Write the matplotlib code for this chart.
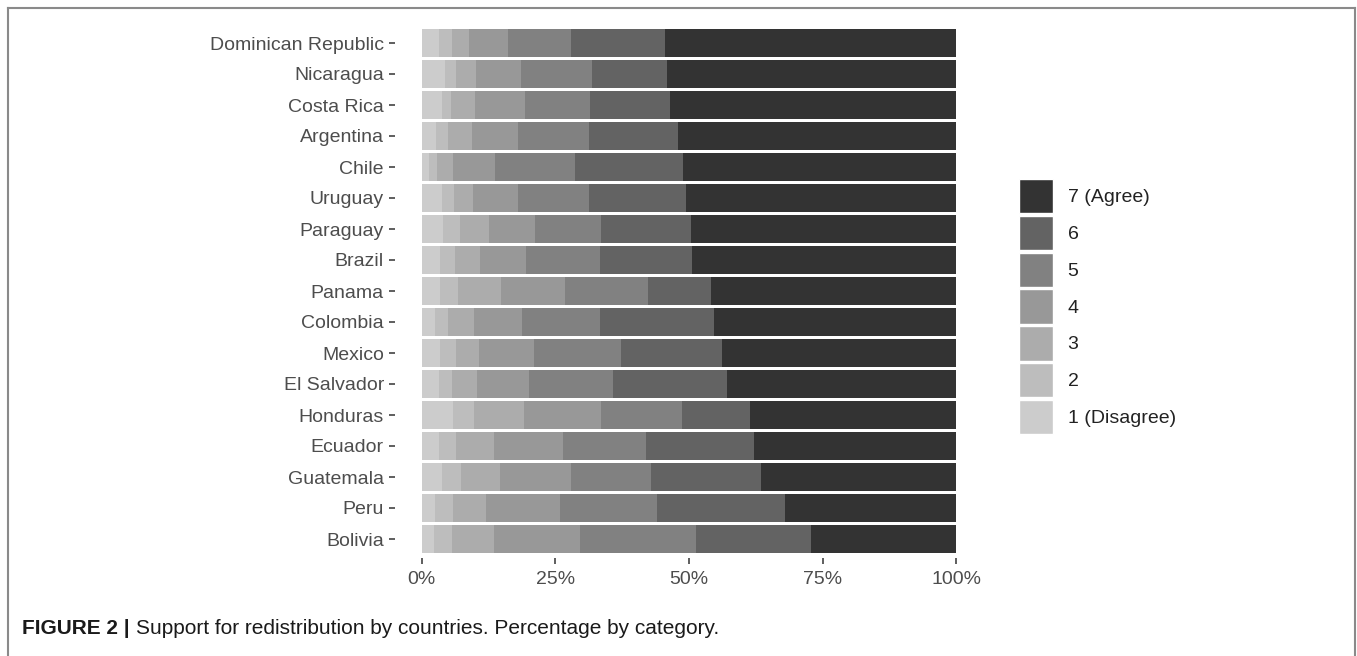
import matplotlib
matplotlib.use("Agg")
import matplotlib.pyplot as plt
from matplotlib.patches import Patch
from matplotlib.lines import Line2D
import numpy as np

plt.rcParams["font.family"] = ["Liberation Sans", "DejaVu Sans"]

# countries, top to bottom
countries = ["Dominican Republic", "Nicaragua", "Costa Rica", "Argentina", "Chile",
             "Uruguay", "Paraguay", "Brazil", "Panama", "Colombia", "Mexico",
             "El Salvador", "Honduras", "Ecuador", "Guatemala", "Peru", "Bolivia"]

# percentage per answer category (1 = disagree ... 7 = agree)
cat1 = [3.3, 4.3, 3.7, 2.7, 1.4, 3.7, 3.9, 3.4, 3.4, 2.5, 3.5, 3.2, 5.8, 3.2, 3.7, 2.5, 2.3]
cat2 = [2.3, 2.2, 1.8, 2.2, 1.5, 2.3, 3.3, 2.8, 3.4, 2.4, 2.9, 2.5, 4.0, 3.3, 3.6, 3.4, 3.4]
cat3 = [3.2, 3.7, 4.4, 4.5, 2.9, 3.5, 5.4, 4.7, 8.1, 4.9, 4.4, 4.6, 9.4, 7.0, 7.3, 6.1, 7.8]
cat4 = [7.3, 8.4, 9.5, 8.6, 7.9, 8.6, 8.5, 8.7, 11.9, 8.9, 10.2, 9.7, 14.3, 12.9, 13.4, 13.9, 16.2]
cat5 = [11.9, 13.3, 12.1, 13.3, 14.9, 13.2, 12.5, 13.7, 15.6, 14.7, 16.3, 15.8, 15.2, 15.6, 14.8, 18.1, 21.6]
cat6 = [17.6, 13.9, 15.0, 16.6, 20.2, 18.2, 16.7, 17.3, 11.8, 21.3, 18.9, 21.3, 12.7, 20.1, 20.7, 23.9, 21.5]
cat7 = [54.4, 54.2, 53.5, 52.1, 51.2, 50.5, 49.7, 49.4, 45.8, 45.3, 43.8, 42.9, 38.6, 37.9, 36.5, 32.1, 27.2]

cat_labels = ["1 (Disagree)", "2", "3", "4", "5", "6", "7 (Agree)"]
cat_colors = ["#cccccc", "#bdbdbd", "#acacac", "#989898", "#818181", "#636363", "#333333"]

W, H = 1357, 656
fig = plt.figure(figsize=(W / 100, H / 100), dpi=100)
ax = fig.add_axes([395 / W, 1 - 557.6 / H, (983 - 395) / W, (557.6 - 24.4) / H])

series = [cat1, cat2, cat3, cat4, cat5, cat6, cat7]
y = np.arange(len(countries))
left = np.zeros(len(countries))
for vals, col in zip(series, cat_colors):
    vals = np.array(vals)
    ax.barh(y, vals, left=left, height=0.9, color=col, linewidth=0)
    left += vals

ax.set_xlim(-5, 105)
ax.set_ylim(len(countries) - 0.4, -0.6)
ax.set_yticks(y)
ax.set_yticklabels(countries)
ax.set_xticks([0, 25, 50, 75, 100])
ax.set_xticklabels(["0%", "25%", "50%", "75%", "100%"])
for s in ax.spines.values():
    s.set_visible(False)
ax.tick_params(axis="both", colors="#333333", labelcolor="#4d4d4d",
               labelsize=14, length=4, width=1.1)
ax.tick_params(axis="y", pad=4)
ax.tick_params(axis="x", pad=6)

handles = [Patch(facecolor=c, edgecolor="white", linewidth=1.0) for c in cat_colors]
leg = fig.legend(handles[::-1], cat_labels[::-1], loc="upper left",
                 bbox_to_anchor=(1019 / W, 1 - 179 / H), frameon=False,
                 fontsize=14, handlelength=1.75, handleheight=2.35,
                 labelspacing=0.12, handletextpad=0.75, borderpad=0,
                 borderaxespad=0)
for t in leg.get_texts():
    t.set_color("#222222")

# outer frame
fc = "#8a8a8a"
fig.add_artist(Line2D([8 / W, 8 / W], [0, 1 - 8 / H], color=fc, lw=1.5))
fig.add_artist(Line2D([8 / W, 1355 / W], [1 - 8 / H, 1 - 8 / H], color=fc, lw=1.5))
fig.add_artist(Line2D([1355 / W, 1355 / W], [0, 1 - 8 / H], color=fc, lw=1.5))

# caption
cap_y = 1 - 629 / H
t1 = fig.text(22 / W, cap_y, "FIGURE 2 |", fontsize=15, fontweight="bold",
              color="#1a1a1a", va="center", ha="left")
fig.canvas.draw()
bb = t1.get_window_extent()
fig.text((bb.x1 + 6) / W, cap_y,
         "Support for redistribution by countries. Percentage by category.",
         fontsize=15, color="#1a1a1a", va="center", ha="left")

fig.savefig("out.png", dpi=100)
